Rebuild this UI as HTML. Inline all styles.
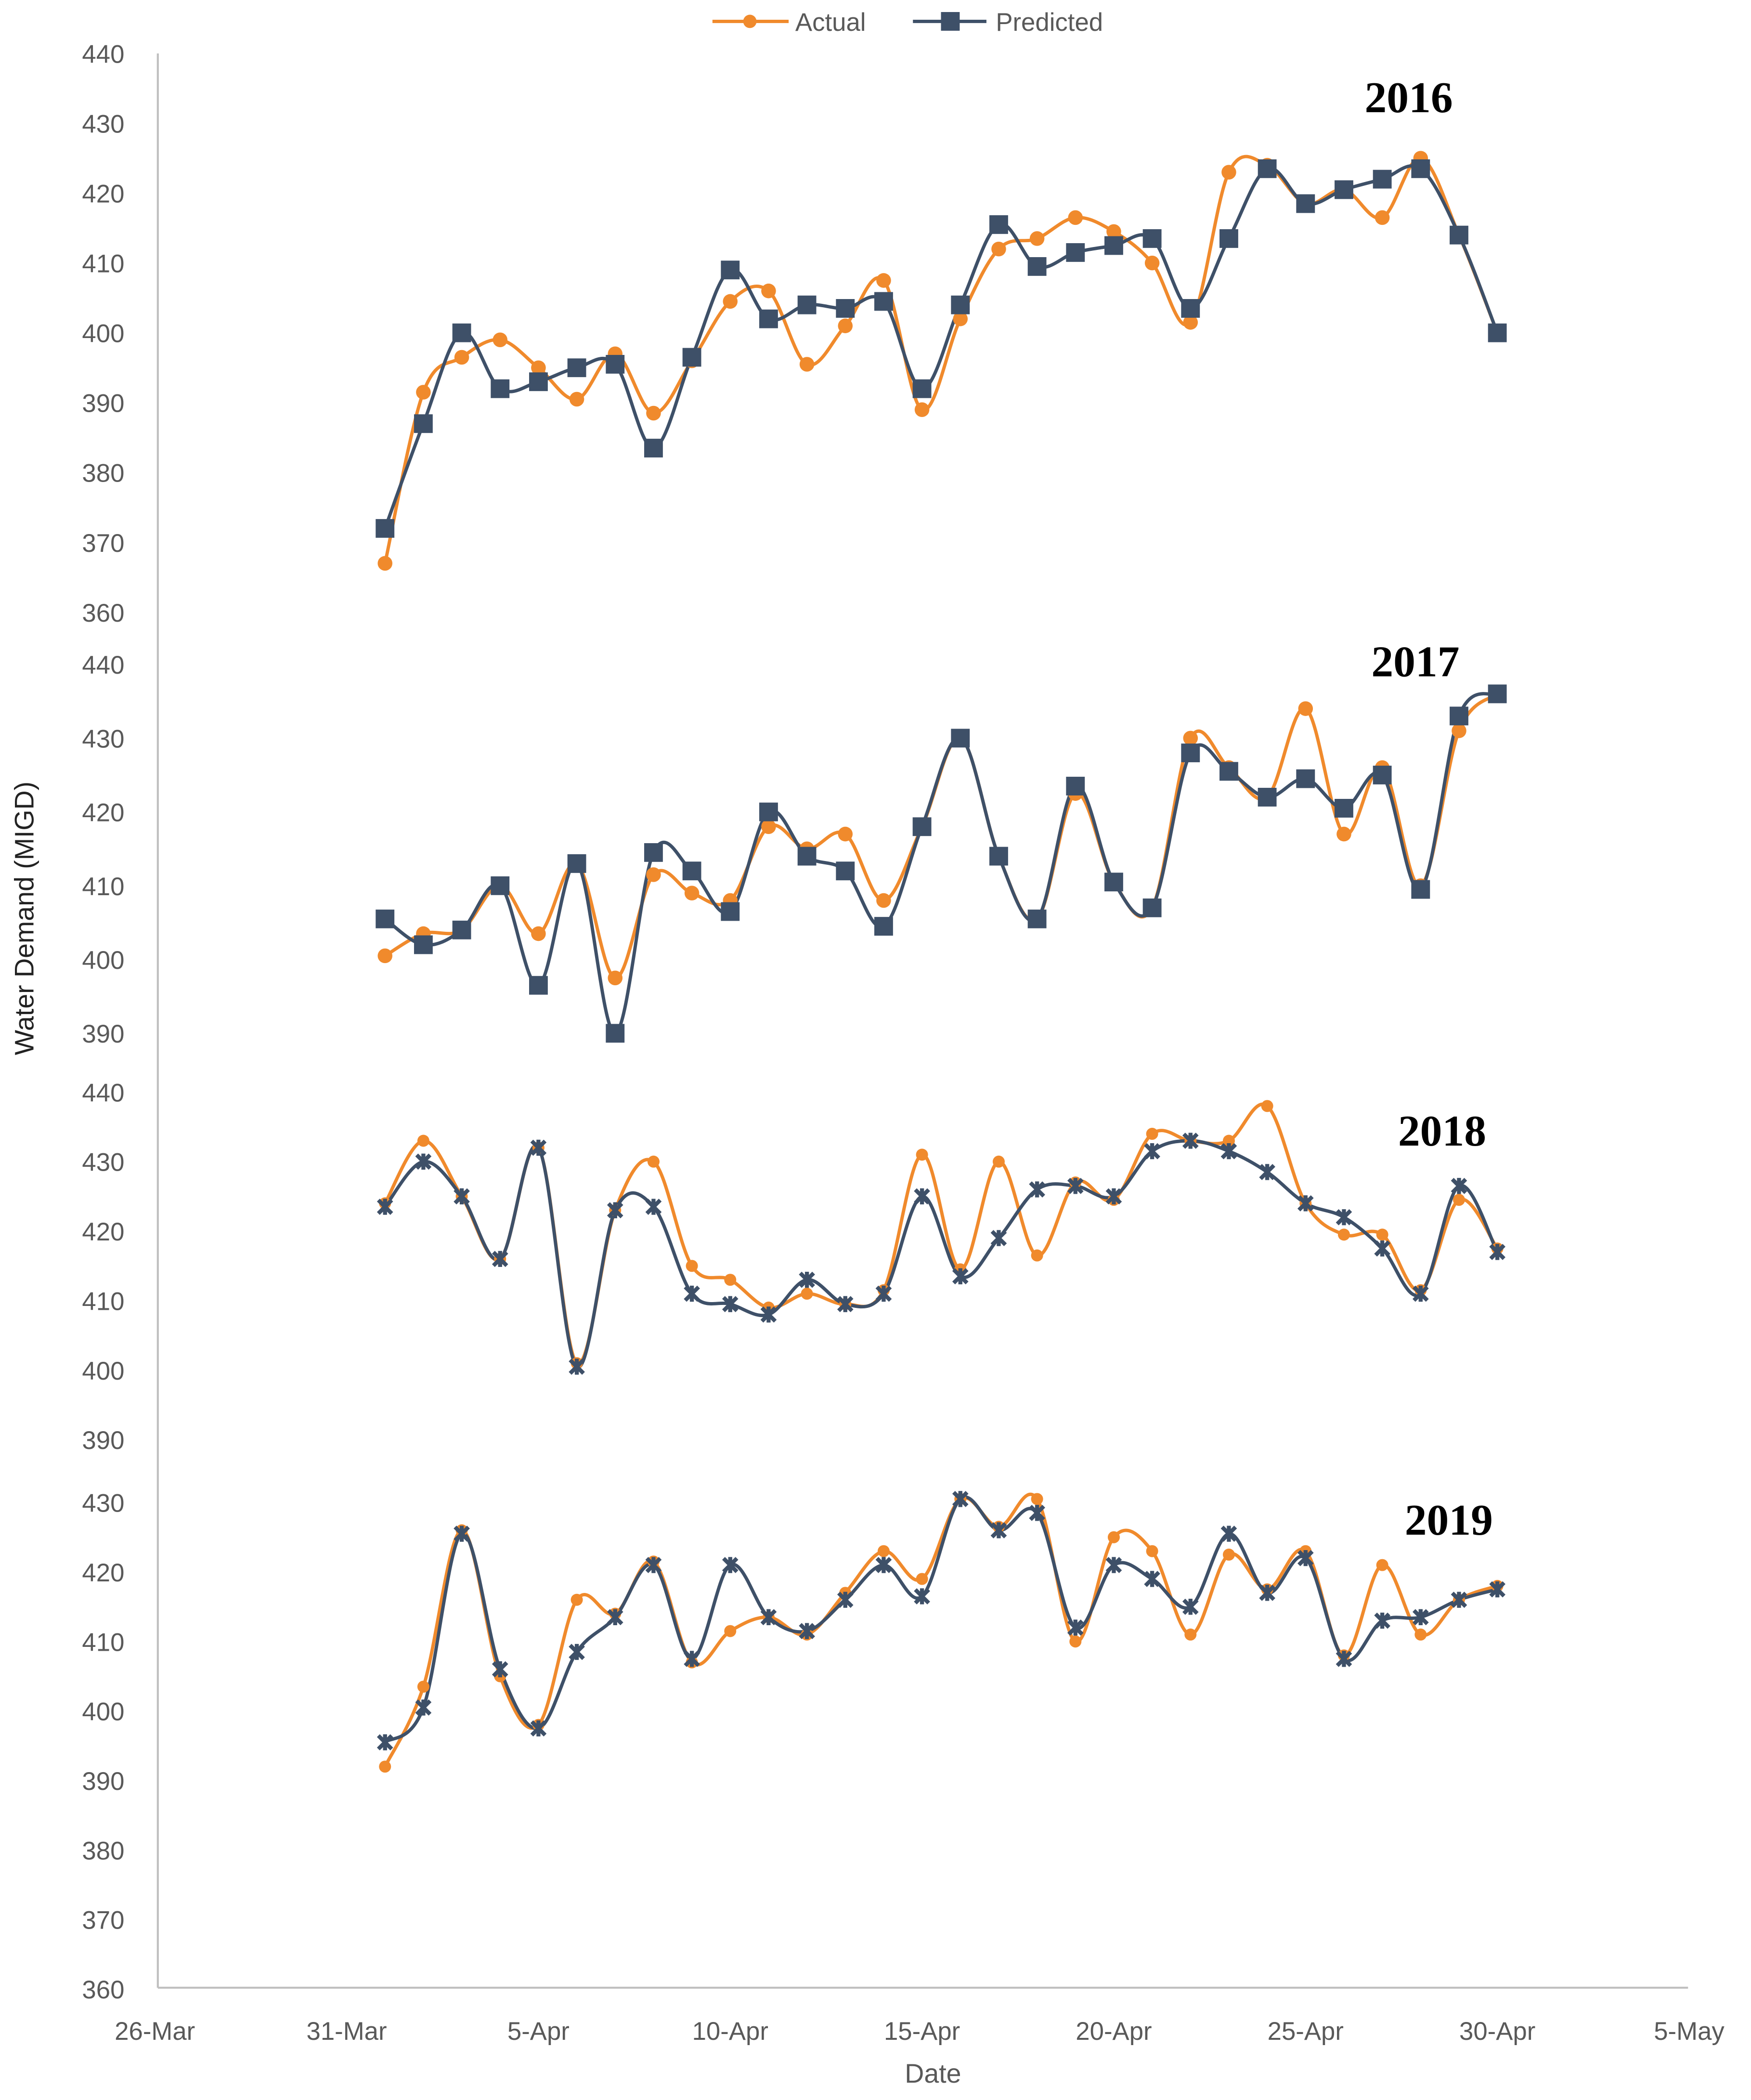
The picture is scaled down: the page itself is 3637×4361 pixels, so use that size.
<!DOCTYPE html>
<html><head><meta charset="utf-8">
<style>
html,body{margin:0;padding:0;background:#fff;}
svg{display:block;}
text{font-family:"Liberation Sans",sans-serif;}
text.yr{font-family:"Liberation Serif",serif;font-weight:bold;}
</style></head>
<body>
<svg id="chart" width="3637" height="4361" viewBox="0 0 1310 1571" xmlns="http://www.w3.org/2000/svg">
<rect width="1310" height="1571" fill="#fff"/>
<g id="axes"></g>
<g id="series"></g>
<g>
  <line x1="533" y1="16" x2="590" y2="16" stroke="#F08A2C" stroke-width="2.5"/>
  <circle cx="561" cy="16" r="5" fill="#F08A2C"/>
  <text x="595" y="23" font-size="19" fill="#595959">Actual</text>
  <line x1="683" y1="16" x2="738" y2="16" stroke="#3E5068" stroke-width="2.5"/>
  <rect x="704" y="9" width="14" height="14" fill="#3E5068"/>
  <text x="745" y="23" font-size="19" fill="#595959">Predicted</text>
</g>
<text transform="translate(25,687) rotate(-90)" text-anchor="middle" font-size="20" fill="#222">Water Demand (MIGD)</text>
<text x="698" y="1558" text-anchor="middle" font-size="20" fill="#595959">Date</text>
<text class="yr" x="1021" y="84" style="font-family:'Liberation Serif',serif;font-weight:bold;font-size:33px" fill="#000">2016</text>
<text class="yr" x="1026" y="506" style="font-family:'Liberation Serif',serif;font-weight:bold;font-size:33px" fill="#000">2017</text>
<text class="yr" x="1046" y="857" style="font-family:'Liberation Serif',serif;font-weight:bold;font-size:33px" fill="#000">2018</text>
<text class="yr" x="1051" y="1148" style="font-family:'Liberation Serif',serif;font-weight:bold;font-size:33px" fill="#000">2019</text>
</svg>
<script>
const xTickLabels = ["26-Mar","31-Mar","5-Apr","10-Apr","15-Apr","20-Apr","25-Apr","30-Apr","5-May"];
const xTickDays = [-6,-1,4,9,14,19,24,29,34]; // day offset from 1-Apr
const days = Array.from({length:30},(_,i)=>i);
const actual2016 = [367,391.5,396.5,399,395,390.5,397,388.5,396,404.5,406,395.5,401,407.5,389,402,412,413.5,416.5,414.5,410,401.5,423,424,418.5,420.5,416.5,425,414,400];
const predicted2016 = [372,387,400,392,393,395,395.5,383.5,396.5,409,402,404,403.5,404.5,392,404,415.5,409.5,411.5,412.5,413.5,403.5,413.5,423.5,418.5,420.5,422,423.5,414,400];
const actual2017 = [400.5,403.5,404,410,403.5,413,397.5,411.5,409,408,418,415,417,408,418,430,414,405.5,422.5,410.5,407,430,426,422,434,417,426,410,431,436];
const predicted2017 = [405.5,402,404,410,396.5,413,390,414.5,412,406.5,420,414,412,404.5,418,430,414,405.5,423.5,410.5,407,428,425.5,422,424.5,420.5,425,409.5,433,436];
const actual2018 = [424,433,425,416,432,401,423,430,415,413,409,411,409.5,411.5,431,414.5,430,416.5,427,424.5,434,433,433,438,424,419.5,419.5,411.5,424.5,417.5];
const predicted2018 = [423.5,430,425,416,432,400.5,423,423.5,411,409.5,408,413,409.5,411,425,413.5,419,426,426.5,425,431.5,433,431.5,428.5,424,422,417.5,411,426.5,417];
const actual2019 = [392,403.5,426,405,398,416,414,421.5,407,411.5,413.5,411,417,423,419,430.5,426.5,430.5,410,425,423,411,422.5,417.5,423,408,421,411,416,418];
const predicted2019 = [395.5,400.5,425.5,406,397.5,408.5,413.5,421,407.5,421,413.5,411.5,416,421,416.5,430.5,426,428.5,412,421,419,415,425.5,417,422,407.5,413,413.5,416,417.5];
const ticks2016 = [440,430,420,410,400,390,380,370,360];
const ticks2017 = [440,430,420,410,400,390];
const ticks2018 = [440,430,420,410,400,390];
const ticks2019 = [430,420,410,400,390,380,370,360];

const NS="http://www.w3.org/2000/svg";
function mk(tag,attrs,parent){const e=document.createElementNS(NS,tag);for(const k in attrs)e.setAttribute(k,attrs[k]);parent.appendChild(e);return e;}
const xScale = d => 288 + d*28.7;
function yScale(top,topVal,pxPerUnit){return v => top + (topVal-v)*pxPerUnit;}
const panels = [
  {year:"2016", a:actual2016, p:predicted2016, ticks:ticks2016, y:yScale(40,440,5.225), style:"square"},
  {year:"2017", a:actual2017, p:predicted2017, ticks:ticks2017, y:yScale(497,440,5.52), style:"square"},
  {year:"2018", a:actual2018, p:predicted2018, ticks:ticks2018, y:yScale(817,440,5.2), style:"star"},
  {year:"2019", a:actual2019, p:predicted2019, ticks:ticks2019, y:yScale(1124,430,5.2), style:"star"}
];
const axes=document.getElementById('axes'), series=document.getElementById('series');
const yAxis = mk('line',{x1:118,y1:40,x2:118,y2:1487,stroke:'#BFBFBF','stroke-width':1.5},axes);


const xAxis = mk('line',{x1:118,y1:1487,x2:1263,y2:1487,stroke:'#BFBFBF','stroke-width':1.5},axes);


xTickLabels.forEach((lab,i)=>{
  const t=mk('text',{x:xScale(xTickDays[i]),y:1526,'text-anchor':'middle','font-size':19,fill:'#595959'},axes);
  t.textContent=lab;
  
  
});
function smooth(pts){
  let d=`M${pts[0][0]},${pts[0][1]}`;
  for(let i=0;i<pts.length-1;i++){
    const p0=pts[i-1]||pts[i],p1=pts[i],p2=pts[i+1],p3=pts[i+2]||p2;
    const t=0.34;
    const c1=[p1[0]+(p2[0]-p0[0])*t/2,p1[1]+(p2[1]-p0[1])*t/2];
    const c2=[p2[0]-(p3[0]-p1[0])*t/2,p2[1]-(p3[1]-p1[1])*t/2];
    d+=` C${c1[0]},${c1[1]} ${c2[0]},${c2[1]} ${p2[0]},${p2[1]}`;
  }
  return d;
}
panels.forEach(P=>{
  P.ticks.forEach(v=>{
    const t=mk('text',{x:93,y:P.y(v)+7,'text-anchor':'end','font-size':19,fill:'#595959'},axes);
    t.textContent=v;
    
    
  });
  const aPts=days.map(d=>[xScale(d),P.y(P.a[d])]);
  const pPts=days.map(d=>[xScale(d),P.y(P.p[d])]);
  const la=mk('path',{d:smooth(aPts),fill:'none',stroke:'#F08A2C','stroke-width':2.5},series);
  
  
  const lp=mk('path',{d:smooth(pPts),fill:'none',stroke:'#3E5068','stroke-width':2.5},series);
  
  
  aPts.forEach(pt=>{
    const c=mk('circle',{cx:pt[0],cy:pt[1],r:P.style==="square"?5.5:4.5,fill:'#F08A2C'},series);
    
    
  });
  pPts.forEach(pt=>{
    let m;
    if(P.style==="square"){
      m=mk('rect',{x:pt[0]-7,y:pt[1]-7,width:14,height:14,fill:'#3E5068'},series);
    } else {
      const s=5;
      m=mk('path',{d:`M${pt[0]-s},${pt[1]-s}L${pt[0]+s},${pt[1]+s}M${pt[0]+s},${pt[1]-s}L${pt[0]-s},${pt[1]+s}M${pt[0]},${pt[1]-s-1}L${pt[0]},${pt[1]+s+1}`,stroke:'#3E5068','stroke-width':3,fill:'none'},series);
    }
    
    
  });
});
</script>
</body></html>
